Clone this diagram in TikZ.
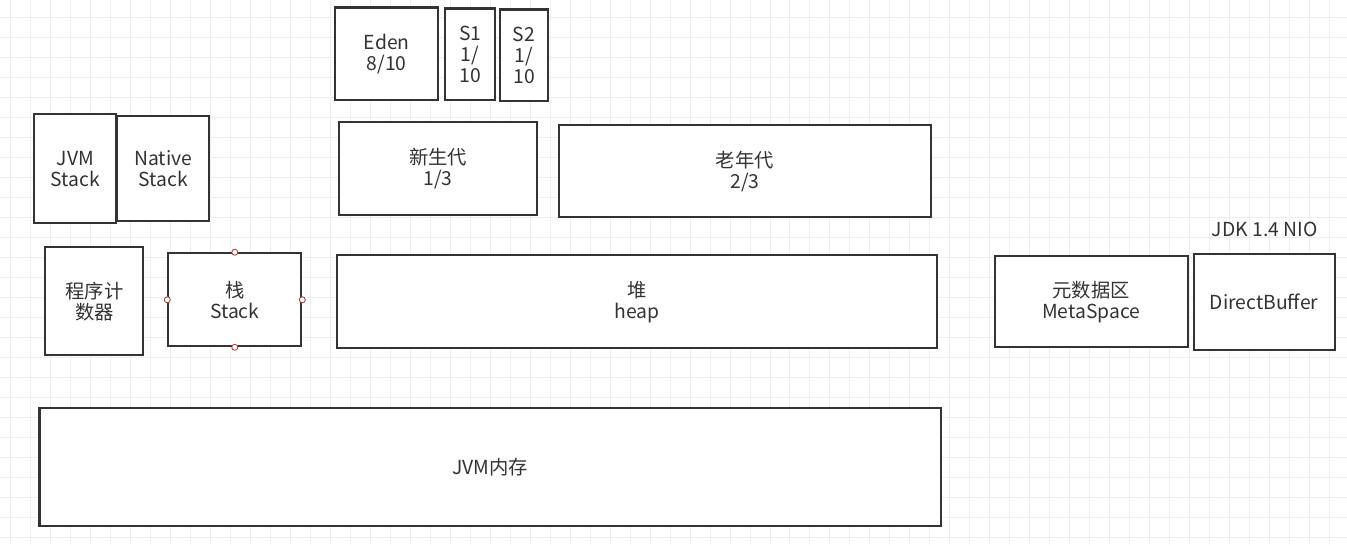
\documentclass[tikz,border=0pt]{standalone}
\usepackage{fontspec}
\setmainfont{Noto Sans CJK SC}
\definecolor{boxline}{HTML}{333333}
\definecolor{gridline}{HTML}{EEEEEE}
\definecolor{portred}{HTML}{A84444}

\begin{document}
\begin{tikzpicture}[x=0.02cm, y=-0.02cm,
    blk/.style={draw=boxline, line width=1.2pt, fill=white, align=center, inner sep=1pt,
                text=boxline, font=\fontsize{11}{12}\selectfont},
    port/.style={circle, draw=portred, fill=white, line width=0.5pt, inner sep=0pt, minimum size=0.12cm}]

    % background grid
    \fill[white] (0,0) rectangle (1347,545);
    \foreach \gx in {10,30,...,1340} \draw[gridline, line width=0.5pt] (\gx,0) -- (\gx,545);
    \foreach \gy in {17,37,...,540} \draw[gridline, line width=0.5pt] (0,\gy) -- (1347,\gy);

    % young generation split
    \node[blk, minimum width=2.06cm, minimum height=1.86cm] (eden) at (386.5,53.5) {Eden\\8/10};
    \node[blk, minimum width=1.0cm, minimum height=1.84cm] (s1) at (470,54) {S1\\1/\\10};
    \node[blk, minimum width=0.96cm, minimum height=1.84cm] (s2) at (524,55) {S2\\1/\\10};

    % stacks
    \node[blk, minimum width=1.64cm, minimum height=2.18cm] (jvmstack) at (75,168.5) {JVM\\Stack};
    \node[blk, minimum width=1.84cm, minimum height=2.10cm] (natstack) at (163,168.5) {Native\\Stack};

    % generations
    \node[blk, minimum width=3.96cm, minimum height=1.86cm] (young) at (438,168.5) {新生代\\1/3};
    \node[blk, minimum width=7.44cm, minimum height=1.84cm] (old) at (745,171) {老年代\\2/3};

    % runtime areas
    \node[blk, minimum width=1.96cm, minimum height=2.16cm] (pc) at (94,301) {程序计\\数器};
    \node[blk, minimum width=2.66cm, minimum height=1.86cm] (stk) at (234.5,299.5) {栈\\Stack};
    \node[blk, minimum width=12.0cm, minimum height=1.86cm] (heap) at (637,301.5) {堆\\heap};
    \node[blk, minimum width=3.86cm, minimum height=1.82cm] (meta) at (1091.5,301.5) {元数据区\\MetaSpace};
    \node[blk, minimum width=2.82cm, minimum height=1.92cm] (dbuf) at (1264.5,302) {DirectBuffer};
    \node[text=boxline, font=\fontsize{11}{12}\selectfont] (nio) at (1265,229) {JDK 1.4 NIO};

    \node[port] (pn) at (stk.north) {};
    \node[port] (ps) at (stk.south) {};
    \node[port] (pw) at (stk.west) {};
    \node[port] (pe) at (stk.east) {};

    % whole memory
    \node[blk, minimum width=18.04cm, minimum height=2.36cm] (mem) at (490,467) {JVM内存};

    \useasboundingbox (0,0) rectangle (1347,545);
\end{tikzpicture}
\end{document}
